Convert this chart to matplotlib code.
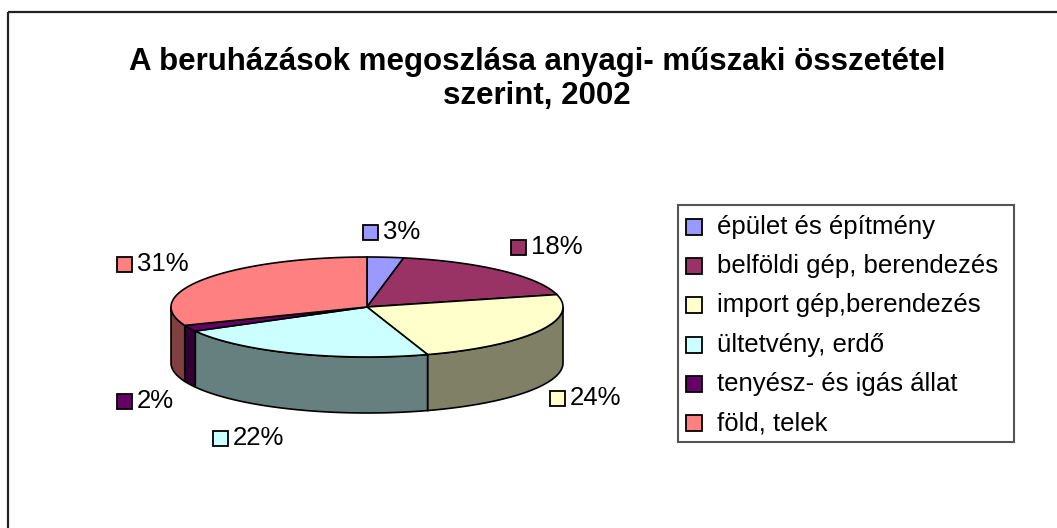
import numpy as np
import matplotlib
matplotlib.use("Agg")
import matplotlib.pyplot as plt
from matplotlib.patches import Polygon, Rectangle

plt.rcParams['font.family'] = ['Liberation Sans', 'DejaVu Sans']

# data
categories = ["épület és építmény", "belföldi gép, berendezés", "import gép,berendezés",
              "ültetvény, erdő", "tenyész- és igás állat", "föld, telek"]
shares = [3, 18, 24, 22, 2, 31]
pct_labels = ["3%", "18%", "24%", "22%", "2%", "31%"]
colors = ["#9999FF", "#993366", "#FFFFCC", "#CCFFFF", "#660066", "#FF8080"]

title = "A beruházások megoszlása anyagi- műszaki összetétel\nszerint, 2002"

# layout (pixel coordinates)
cx, cy, rx, ry, depth = 367, 307, 196, 50, 56
label_pos = [(363, 232), (511, 247), (550, 398), (213, 438), (117, 401), (117, 264)]
fs = 18.5

fig = plt.figure(figsize=(10.57, 5.28), dpi=100)
ax = fig.add_axes([0, 0, 1, 1])
ax.set_xlim(0, 1057)
ax.set_ylim(528, 0)
ax.axis("off")

# chart border (cut off on the right and bottom)
ax.add_patch(Rectangle((8, 12), 1100, 600, fill=False, ec="#222222", lw=1.6))


def darker(c, f=0.5):
    r, g, b = matplotlib.colors.to_rgb(c)
    return (r * f, g * f, b * f)


def pt(theta, dy=0):
    return cx + rx * np.sin(theta), cy - ry * np.cos(theta) + dy


total = sum(shares)
bounds = np.concatenate([[0], np.cumsum(shares)]) / total * 2 * np.pi

# front side walls
for i in range(len(shares)):
    a0 = max(bounds[i], np.pi / 2)
    a1 = min(bounds[i + 1], 3 * np.pi / 2)
    if a1 <= a0:
        continue
    t = np.linspace(a0, a1, 80)
    top = np.column_stack(pt(t))
    bot = np.column_stack(pt(t[::-1], depth))
    ax.add_patch(Polygon(np.vstack([top, bot]), closed=True,
                         fc=darker(colors[i]), ec="black", lw=1.2))

# top faces
for i in range(len(shares)):
    t = np.linspace(bounds[i], bounds[i + 1], 120)
    arc = np.column_stack(pt(t))
    poly = np.vstack([[cx, cy], arc])
    ax.add_patch(Polygon(poly, closed=True, fc=colors[i], ec="black", lw=1.2))

# percentage labels
for (x, y), lab, c in zip(label_pos, pct_labels, colors):
    ax.add_patch(Rectangle((x, y - 7.5), 15, 15, fc=c, ec="black", lw=1.3))
    ax.text(x + 20, y, lab, fontsize=fs, va="center", ha="left")

# legend
ax.add_patch(Rectangle((678, 205), 336, 237, fill=False, ec="#555555", lw=1.5))
for k, (name, c) in enumerate(zip(categories, colors)):
    y = 227 + k * 39.2
    ax.add_patch(Rectangle((686, y - 8), 16, 16, fc=c, ec="black", lw=1.3))
    ax.text(717, y, name, fontsize=fs, va="center", ha="left")

ax.text(537, 79, title, fontsize=22.5, fontweight="bold", ha="center", va="center",
        linespacing=1.2)

fig.savefig("out.png", dpi=100)
